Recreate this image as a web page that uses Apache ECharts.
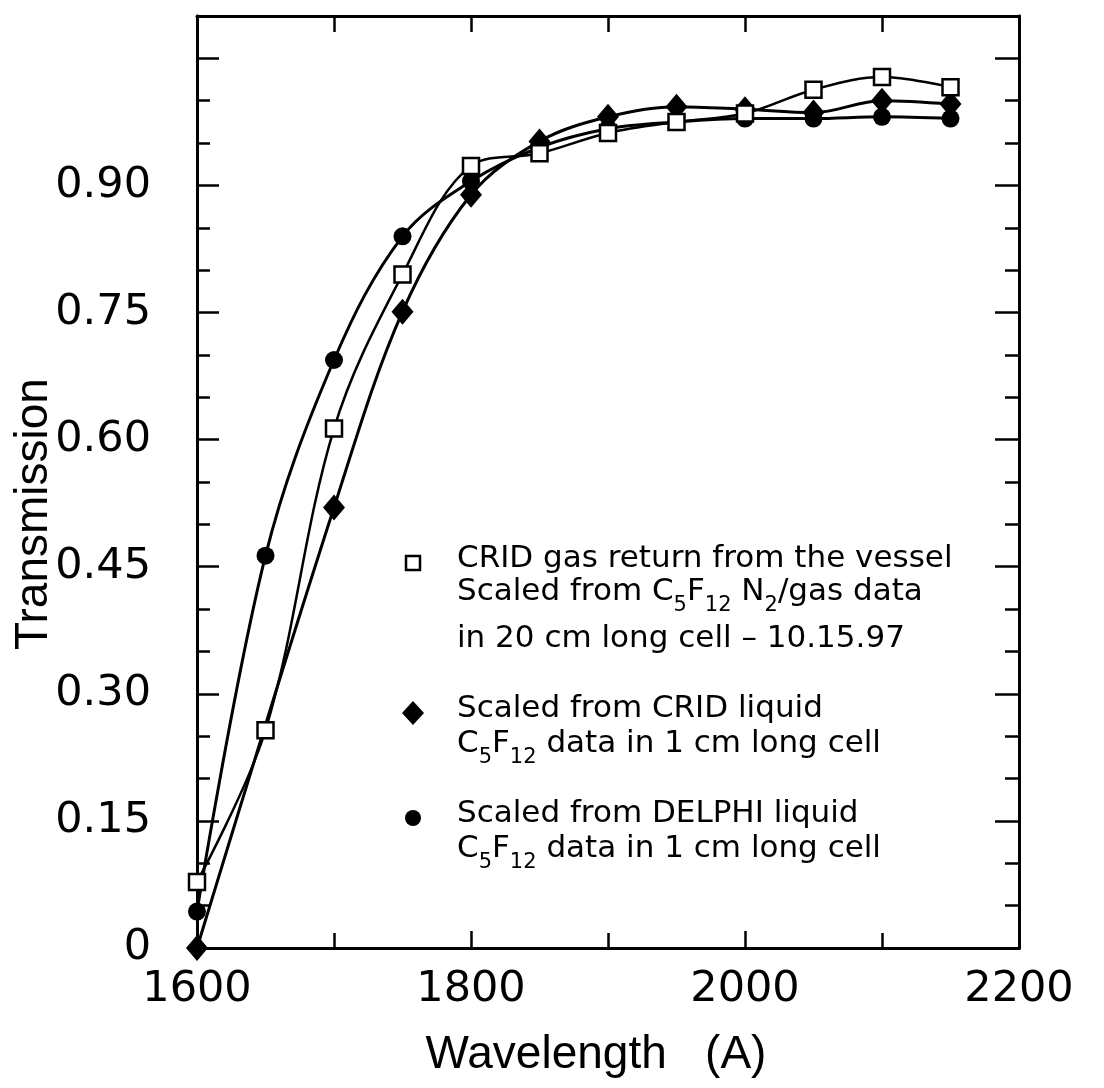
<!DOCTYPE html>
<html>
<head>
<meta charset="utf-8">
<title>Transmission vs wavelength</title>
<style>
  html, body { margin: 0; padding: 0; background: #fff; }
  #main { width: 1104px; height: 1088px; }
</style>
</head>
<body>
<div id="main"></div>
<script type="text/javascript" src="https://cdn.jsdelivr.net/npm/echarts@6/dist/echarts.min.js"></script>
<script type="text/javascript">
// wavelength (A) of the measured points
var wavelengths = [1600, 1650, 1700, 1750, 1800, 1850, 1900, 1950, 2000, 2050, 2100, 2150];
var diamondWavelengths = [1600, 1700, 1750, 1800, 1850, 1900, 1950, 2000, 2050, 2100, 2150];

// transmission
var cridGas = [0.078, 0.257, 0.613, 0.795, 0.923, 0.938, 0.962, 0.975, 0.985, 1.013, 1.028, 1.016];
var cridLiquid = [0.0, 0.52, 0.751, 0.889, 0.952, 0.981, 0.993, 0.990, 0.986, 1.0, 0.996];
var delphiLiquid = [0.043, 0.463, 0.694, 0.840, 0.905, 0.945, 0.967, 0.975, 0.979, 0.979, 0.981, 0.979];

var seriesNames = ['CRID gas', 'CRID liquid', 'DELPHI liquid'];

// legend text, {m|..} normal and {s|..} subscript
var legendLines = [
    ['{m|CRID gas return from the vessel}',
     '{m|Scaled from C}{s|5}{m|F}{s|12}{m| N}{s|2}{m|/gas data}',
     '{m|in 20 cm long cell \u2013 10.15.97}'],
    ['{m|Scaled from CRID liquid}',
     '{m|C}{s|5}{m|F}{s|12}{m| data in 1 cm long cell}'],
    ['{m|Scaled from DELPHI liquid}',
     '{m|C}{s|5}{m|F}{s|12}{m| data in 1 cm long cell}']
];

function pairs(xs, ys) {
    var out = [];
    for (var i = 0; i < xs.length; i++) out.push([xs[i], ys[i]]);
    return out;
}

var myChart = echarts.init(document.getElementById('main'));

var black = '#000';
var tickFont = 'DejaVu Sans';
var nameFont = 'Liberation Sans';

function frameY(position, interval, len, labels) {
    return {
        type: 'value',
        position: position,
        min: 0,
        max: 1.1,
        interval: interval,
        axisLine: { show: true, onZero: false, lineStyle: { color: black, width: 3 } },
        axisTick: { show: true, inside: true, length: len, lineStyle: { color: black, width: 2.5 } },
        axisLabel: { show: labels, margin: 46, fontSize: 43, fontFamily: tickFont, color: black,
            formatter: function (v) {
                if (v === 0) return '0';
                if (v > 0.95) return '';
                return v.toFixed(2);
            }
        },
        splitLine: { show: false }
    };
}

function frameX(position, interval, len, labels) {
    return {
        type: 'value', position: position, min: 1600, max: 2200, interval: interval,
        axisLine: { show: true, onZero: false, lineStyle: { color: black, width: 3 } },
        axisTick: { show: true, inside: true, length: len, lineStyle: { color: black, width: 2.5 } },
        axisLabel: { show: labels, margin: 20, fontSize: 43, fontFamily: tickFont, color: black,
            formatter: function (v) { return String(v); } },
        splitLine: { show: false }
    };
}

var yMain = frameY('left', 0.15, 22, true);
yMain.name = 'Transmission';
yMain.nameLocation = 'middle';
yMain.nameRotate = 90;
yMain.nameGap = 140;
yMain.nameMoveOverlap = false;
yMain.nameTextStyle = { fontSize: 46, fontFamily: nameFont, color: black, padding: [0, 64, 0, 0] };

var xMain = frameX('bottom', 200, 17, true);
xMain.name = 'Wavelength   (A)';
xMain.nameLocation = 'middle';
xMain.nameGap = 84;
xMain.nameMoveOverlap = false;
xMain.nameTextStyle = { fontSize: 46, fontFamily: nameFont, color: black, padding: [0, 24, 0, 0] };

// legend drawn by hand inside the plot
var legendMarkerX = 413;
var legendTextX = 457;
var legendRowY = [[563, 596, 643], [713, 748], [818, 853]];
var graphics = [];
legendLines.forEach(function (lines, k) {
    lines.forEach(function (t, j) {
        graphics.push({
            type: 'text',
            style: {
                x: legendTextX, y: legendRowY[k][j],
                text: t,
                verticalAlign: 'middle',
                fill: black,
                rich: {
                    m: { fontSize: 31, fontFamily: tickFont, color: black, lineHeight: 40, verticalAlign: 'top' },
                    s: { fontSize: 21, fontFamily: tickFont, color: black, lineHeight: 21, verticalAlign: 'bottom' }
                }
            }
        });
    });
});
graphics.push({
    type: 'rect', shape: { x: legendMarkerX - 7, y: legendRowY[0][0] - 7, width: 14, height: 14 },
    style: { fill: '#fff', stroke: black, lineWidth: 2.5 }
});
graphics.push({
    type: 'polygon', shape: { points: [[legendMarkerX, legendRowY[1][0] - 12], [legendMarkerX + 11, legendRowY[1][0]],
        [legendMarkerX, legendRowY[1][0] + 12], [legendMarkerX - 11, legendRowY[1][0]]] },
    style: { fill: black }
});
graphics.push({
    type: 'circle', shape: { cx: legendMarkerX, cy: legendRowY[2][0], r: 8 },
    style: { fill: black }
});

var option = {
    backgroundColor: '#fff',
    animation: false,
    grid: { left: 197, right: 85, top: 16, bottom: 140, containLabel: false, outerBoundsMode: 'none' },
    legend: { show: false },
    xAxis: [
        xMain,
        frameX('bottom', 100, 15, false),
        frameX('top', 100, 16, false)
    ],
    yAxis: [
        yMain,
        frameY('left', 0.05, 13, false),
        frameY('right', 0.15, 24, false),
        frameY('right', 0.05, 14, false)
    ],
    graphic: graphics,
    series: [
        {
            name: seriesNames[1], type: 'line', smooth: 0.35,
            data: pairs(diamondWavelengths, cridLiquid),
            symbol: 'diamond', symbolSize: [22, 26],
            itemStyle: { color: black },
            lineStyle: { color: black, width: 3 }
        },
        {
            name: seriesNames[2], type: 'line', smooth: 0.35,
            data: pairs(wavelengths, delphiLiquid),
            symbol: 'circle', symbolSize: 18,
            itemStyle: { color: black },
            lineStyle: { color: black, width: 3 }
        },
        {
            name: seriesNames[0], type: 'line', smooth: 0.35,
            data: pairs(wavelengths, cridGas),
            symbol: 'rect', symbolSize: 16,
            itemStyle: { color: '#fff', borderColor: black, borderWidth: 2.5 },
            lineStyle: { color: black, width: 2.5 }
        }
    ]
};

myChart.setOption(option);
</script>
</body>
</html>
